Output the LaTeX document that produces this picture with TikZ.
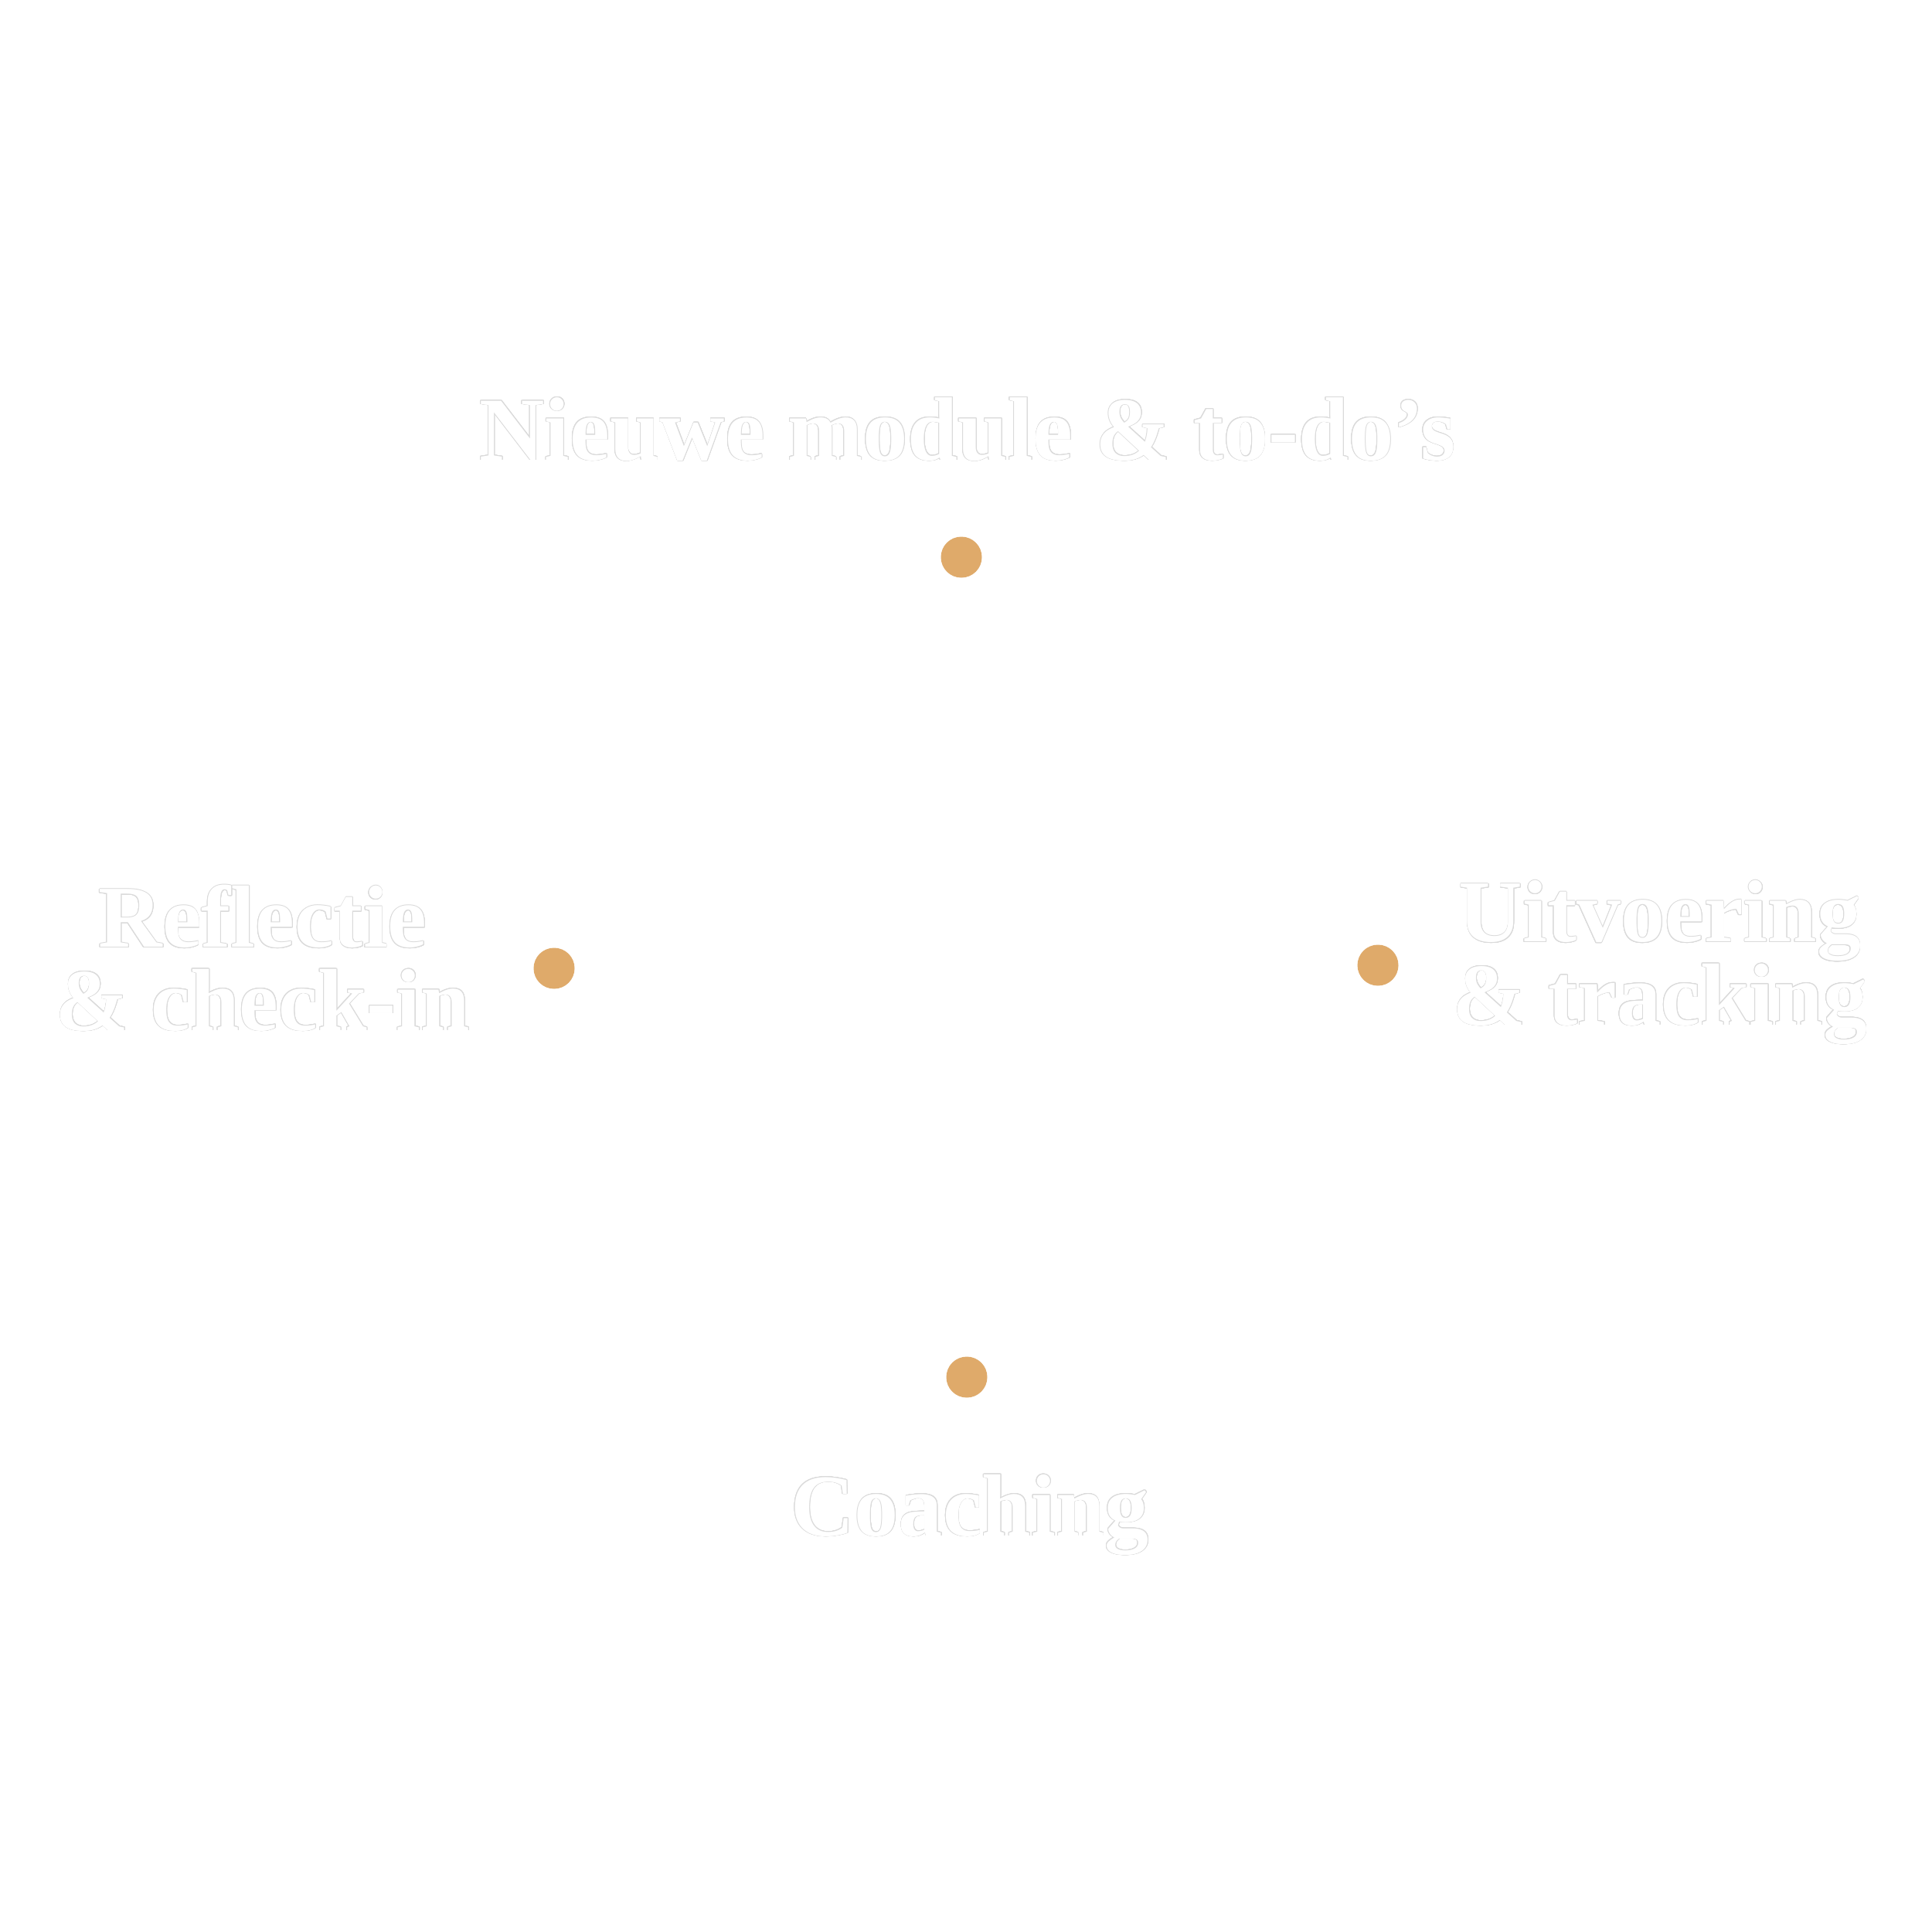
\documentclass[tikz,border=0pt]{standalone}
\usepackage{fontspec}
\setmainfont{Liberation Serif}
\usepackage{contour}
\usepackage{tikz}
\usetikzlibrary{positioning}
\contourlength{0.25pt}
\definecolor{dotgold}{RGB}{223,170,106}
\definecolor{rimgray}{RGB}{218,218,218}
\newcommand{\outl}[1]{\contour{rimgray}{#1}}

\begin{document}
\begin{tikzpicture}[
  dot/.style={circle,fill=dotgold,inner sep=0pt,minimum size=0.53cm},
  lbl/.style={text=white,font=\fontsize{32.5}{30.5}\selectfont\bfseries,inner sep=0pt}
]
  % canvas
  \useasboundingbox (0,0) rectangle (25,-25);
  \fill[white] (0,0) rectangle (25,-25);

  % four phase dots
  \node[dot] (top)    at (12.44,-7.21)  {};
  \node[dot] (left)   at (7.17,-12.53)  {};
  \node[dot] (right)  at (17.83,-12.49) {};
  \node[dot] (bottom) at (12.51,-17.82) {};

  % phase labels
  \node[lbl,anchor=base,font=\fontsize{33.2}{31}\selectfont\bfseries] (toplbl) at (12.52,-5.95)
    {\outl{Nieuwe module \& to-do’s}};
  \node[lbl,anchor=base,align=center] (leftlbl) at (3.40,-13.33)
    {\outl{Reflectie}\\\outl{\& check-in}};
  \node[lbl,anchor=base,align=center] (rightlbl) at (21.48,-13.26)
    {\outl{Uitvoering}\\\outl{\& tracking}};
  \node[lbl,anchor=base] (bottomlbl) at (12.55,-19.87) {\outl{Coaching}};
\end{tikzpicture}
\end{document}
